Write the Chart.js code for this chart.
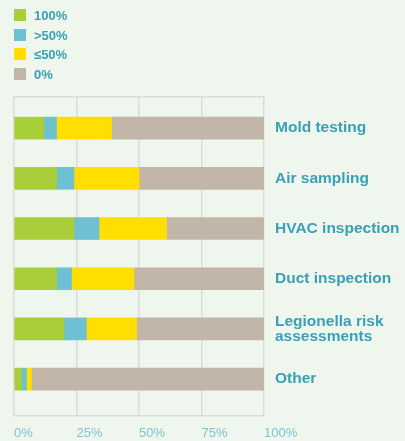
<!DOCTYPE html>
<html lang="en">
<head>
  <meta charset="UTF-8" />
  <title>Testing services</title>
  <script src="https://cdn.jsdelivr.net/npm/chart.js"></script>
  <style>
    html, body {
      margin: 0;
      padding: 0;
      background: #eff6ee;
    }
    #wrap {
      position: relative;
      width: 405px;
      height: 441px;
    }
    #legend {
      position: absolute;
      left: 14px;
      top: 9px;
      font: bold 13px "Liberation Sans", Arial, sans-serif;
      color: #3aa0b6;
    }
    .item {
      height: 19.5px;
      display: flex;
      align-items: flex-start;
    }
    .box {
      width: 12px;
      height: 12px;
      margin-right: 8px;
    }
    .item span {
      line-height: 12px;
      margin-top: 1px;
    }
  </style>
</head>
<body>
  <div id="wrap">
    <canvas id="chart" width="405" height="441"></canvas>
    <div id="legend"></div>
  </div>

  <script>
    const categories = [
      'Mold testing',
      'Air sampling',
      'HVAC inspection',
      'Duct inspection',
      ['Legionella risk', 'assessments'],
      'Other'
    ];
    const seriesNames = ['100%', '>50%', '≤50%', '0%'];
    const full    = [12, 17, 24, 17, 20, 3];
    const over50  = [5, 7, 10, 6, 9, 2];
    const upTo50  = [22, 26, 27, 25, 20, 2];
    const none    = [61, 50, 39, 52, 51, 93];
    const xTicks  = [0, 25, 50, 75, 100];

    const colors = ['#a8cf3a', '#70c0d4', '#ffde00', '#c2b6a9'];
    const font = '"Liberation Sans", Arial, sans-serif';
    const gridColor = '#dadcd8';

    const toPoints = arr => arr.map((v, i) => ({ x: v, y: i }));
    const series = [full, over50, upTo50, none];

    const chart = new Chart(document.getElementById('chart'), {
      type: 'bar',
      data: {
        datasets: series.map((s, k) => ({
          label: seriesNames[k],
          data: toPoints(s),
          backgroundColor: colors[k],
          borderWidth: 0,
          barThickness: 22
        }))
      },
      options: {
        indexAxis: 'y',
        responsive: false,
        animation: false,
        layout: { padding: { top: 97, left: 14, right: 0, bottom: 0 } },
        plugins: {
          legend: { display: false },
          tooltip: { enabled: false }
        },
        scales: {
          x: {
            type: 'linear',
            stacked: true,
            min: 0,
            max: 100,
            afterBuildTicks: s => { s.ticks = xTicks.map(v => ({ value: v })); },
            afterFit: s => { s.height = 25; },
            grid: { color: gridColor, lineWidth: 1.5, drawTicks: false },
            border: { color: gridColor, width: 1.5 },
            ticks: {
              align: 'start',
              padding: 10,
              color: '#7cc4d4',
              font: { family: font, size: 13 },
              callback: v => v + '%'
            }
          },
          x2: {
            type: 'linear',
            position: 'top',
            display: true,
            min: 0,
            max: 100,
            grid: { display: false, drawTicks: false },
            border: { color: gridColor, width: 1.5 },
            ticks: { display: false }
          },
          y: {
            type: 'linear',
            stacked: true,
            offset: false,
            position: 'right',
            reverse: true,
            min: -0.62,
            max: 5.735,
            afterBuildTicks: s => { s.ticks = categories.map((c, i) => ({ value: i })); },
            afterFit: s => { s.width = 141; },
            grid: { display: false, drawTicks: false },
            border: { display: false },
            ticks: {
              padding: 11,
              color: '#3aa0b6',
              font: { family: font, size: 15.5, weight: 'bold', lineHeight: 0.97 },
              callback: v => categories[v]
            }
          }
        }
      }
    });

    // legend built from the chart datasets
    const legend = document.getElementById('legend');
    chart.data.datasets.forEach(ds => {
      const item = document.createElement('div');
      item.className = 'item';
      const box = document.createElement('div');
      box.className = 'box';
      box.style.background = ds.backgroundColor;
      const txt = document.createElement('span');
      txt.textContent = ds.label;
      item.appendChild(box);
      item.appendChild(txt);
      legend.appendChild(item);
    });
  </script>
</body>
</html>
